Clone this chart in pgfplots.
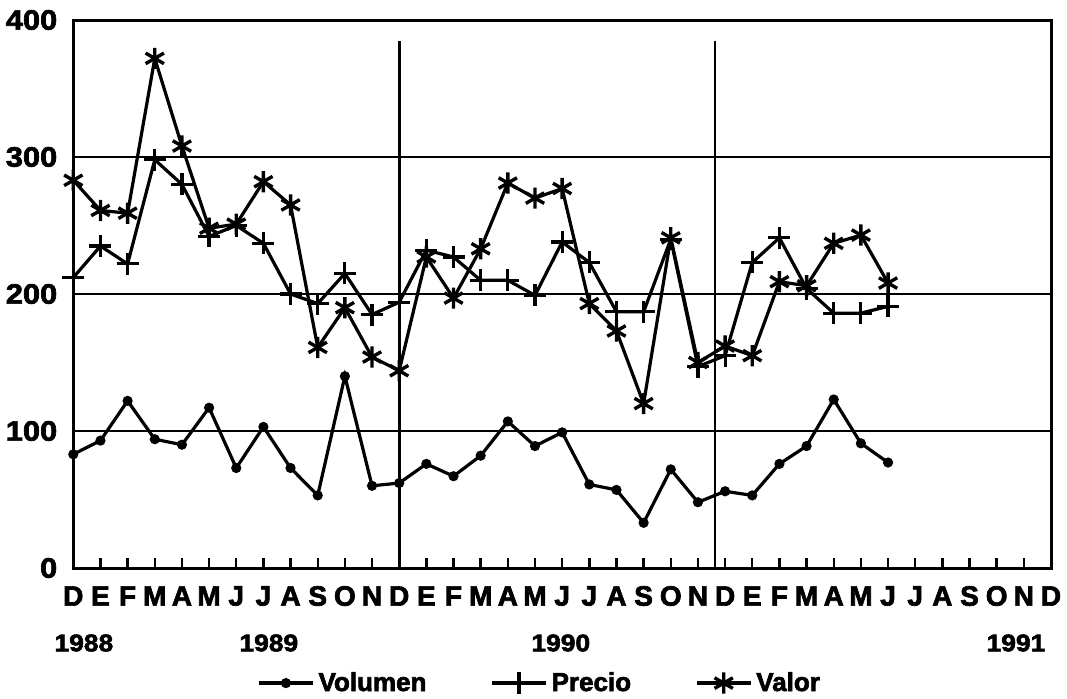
\documentclass[border=0pt]{standalone}
\usepackage{pgfplots}
\pgfplotsset{compat=1.18}
\usepackage{fontspec}
\setmainfont{Liberation Sans}[BoldFeatures={FakeBold=2.5}]
\newfontfamily\wide{Liberation Sans Bold}[FakeStretch=1.1, FakeBold=2.5]
\begin{document}
\begin{tikzpicture}
\useasboundingbox (0,0) rectangle (533.5pt,349pt);
\begin{axis}[
  at={(36.65pt,65pt)}, anchor=south west,
  scale only axis, width=488.85pt, height=274pt,
  xmin=0, xmax=36, ymin=0, ymax=400,
  axis line style={line width=1.5pt},
  xtick={0,...,36},
  xticklabels={D,E,F,M,A,M,J,J,A,S,O,N,D,E,F,M,A,M,J,J,A,S,O,N,D,E,F,M,A,M,J,J,A,S,O,N,D},
  xtick pos=lower, tick align=inside, major tick length=5pt,
  xtick style={line width=1.2pt, black},
  ytick={0,100,200,300,400},
  yticklabels={0,100,200,300,400},
  ytick style={draw=none},
  ymajorgrids, grid style={line width=0.9pt, black},
  xticklabel style={font=\bfseries\fontsize{14}{14}\selectfont, anchor=center, yshift=-14pt},
  yticklabel style={font=\wide\fontsize{14}{14}\selectfont, anchor=east, xshift=-4.5pt},
  legend style={at={(0.478,-0.21)}, anchor=center, draw=none, fill=none,
    legend columns=3, font=\bfseries\fontsize{13}{13}\selectfont,
    /tikz/every even column/.append style={column sep=30pt}},
  legend image code/.code={\draw[mark repeat=2,mark phase=2] plot coordinates {(0pt,0pt) (13.5pt,0pt) (27pt,0pt)};},
  clip=false,
]
\addplot[black, line width=1.6pt, mark=*, mark size=1.7pt] coordinates {
(0,83) (1,93) (2,122) (3,94) (4,90) (5,117) (6,73) (7,103) (8,73) (9,53) (10,140) (11,60) (12,62)
(13,76) (14,67) (15,82) (16,107) (17,89) (18,99) (19,61) (20,57) (21,33) (22,72) (23,48) (24,56)
(25,53) (26,76) (27,89) (28,123) (29,91) (30,77)};
\addlegendentry{Volumen}
\addplot[black, line width=1.6pt, mark=+, mark size=5.5pt, mark options={line width=1.6pt}] coordinates {
(0,212) (1,235) (2,222) (3,298) (4,280) (5,242) (6,250) (7,237) (8,200) (9,193) (10,215) (11,185) (12,194)
(13,232) (14,227) (15,210) (16,210) (17,199) (18,238) (19,223) (20,187) (21,187) (22,240) (23,147) (24,155)
(25,223) (26,241) (27,204) (28,186) (29,186) (30,191)};
\addlegendentry{Precio}
\addplot[black, line width=1.6pt, mark=asterisk, mark size=5.3pt, mark options={line width=1.7pt}] coordinates {
(0,283) (1,261) (2,259) (3,372) (4,308) (5,248) (6,251) (7,282) (8,265) (9,161) (10,190) (11,154) (12,144)
(13,227) (14,197) (15,233) (16,281) (17,270) (18,277) (19,193) (20,173) (21,120) (22,241) (23,150) (24,162)
(25,155) (26,209) (27,206) (28,237) (29,243) (30,208)};
\addlegendentry{Valor}
\addplot[black, line width=1.3pt, forget plot] coordinates {(12,0) (12,385)};
\addplot[black, line width=1.3pt, forget plot] coordinates {(23.63,0) (23.63,385)};
\node[font=\wide\fontsize{12}{12}\selectfont] at (axis cs:0.39,0) [yshift=-37.5pt] {1988};
\node[font=\wide\fontsize{12}{12}\selectfont] at (axis cs:7.2,0) [yshift=-37.5pt] {1989};
\node[font=\wide\fontsize{12}{12}\selectfont] at (axis cs:17.95,0) [yshift=-37.5pt] {1990};
\node[font=\wide\fontsize{12}{12}\selectfont] at (axis cs:34.71,0) [yshift=-37.5pt] {1991};
\end{axis}
\end{tikzpicture}
\end{document}
